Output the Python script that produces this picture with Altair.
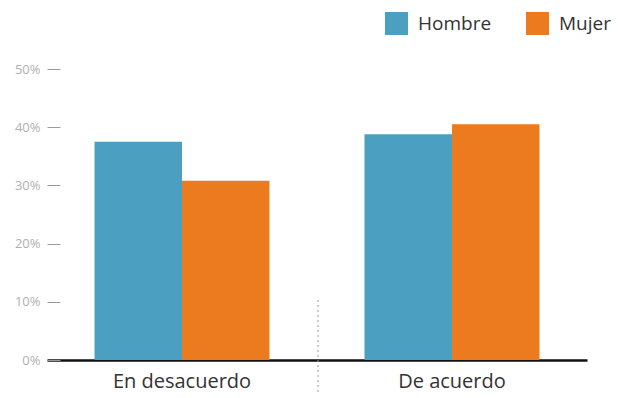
import altair as alt
import pandas as pd

categories = ["En desacuerdo", "De acuerdo"]
genders = ["Hombre", "Mujer"]
hombre = [0.375, 0.388]
mujer = [0.308, 0.405]
colors = ["#4b9fc1", "#ec7a1f"]

rows = []
for i, c in enumerate(categories):
    rows.append({"cat": c, "sexo": "Hombre", "val": hombre[i]})
    rows.append({"cat": c, "sexo": "Mujer", "val": mujer[i]})
df = pd.DataFrame(rows)

FONT = "Open Sans"

bars = alt.Chart(df).mark_bar().encode(
    x=alt.X("cat:N", sort=categories, title=None,
            scale=alt.Scale(paddingInner=0, paddingOuter=0),
            axis=alt.Axis(labelAngle=0, ticks=False, domain=True, domainColor="#111",
                          domainWidth=2.5, labelFontSize=20, labelColor="#333",
                          labelFont=FONT, labelPadding=11, grid=False)),
    xOffset=alt.XOffset("sexo:N", sort=genders,
                        scale=alt.Scale(paddingInner=0, paddingOuter=0.543)),
    y=alt.Y("val:Q", title=None,
            scale=alt.Scale(domain=[0, 0.5]),
            axis=alt.Axis(format=".0%", values=[0, 0.1, 0.2, 0.3, 0.4, 0.5],
                          domain=False, grid=False, offset=-13, tickSize=13,
                          tickColor="#999", tickWidth=1, labelColor="#b0b0b0",
                          labelFontSize=13, labelFont=FONT, labelPadding=7)),
    color=alt.Color("sexo:N", sort=genders, title=None,
                    scale=alt.Scale(domain=genders, range=colors),
                    legend=alt.Legend(orient="none", legendX=338, legendY=-57,
                                      direction="horizontal", symbolType="square",
                                      symbolSize=529, symbolStrokeWidth=0,
                                      symbolOpacity=1,
                                      labelFontSize=19, labelColor="#333",
                                      labelFont=FONT, labelOffset=10,
                                      columnPadding=34)),
)

divider = alt.Chart(pd.DataFrame({"d": [0]})).mark_rule(
    color="#999", strokeDash=[2, 3], strokeWidth=1
).encode(x=alt.value(271), y=alt.value(231), y2=alt.value(324))

chart = alt.layer(divider, bars).properties(
    width=540, height=291,
    autosize=alt.AutoSizeParams(type="none"),
    padding={"left": 39, "top": 61, "right": 27, "bottom": 34},
).configure(background="white").configure_view(strokeWidth=0, stroke="transparent")

chart.save("out.html", embed_options={"renderer": "svg", "actions": False})
